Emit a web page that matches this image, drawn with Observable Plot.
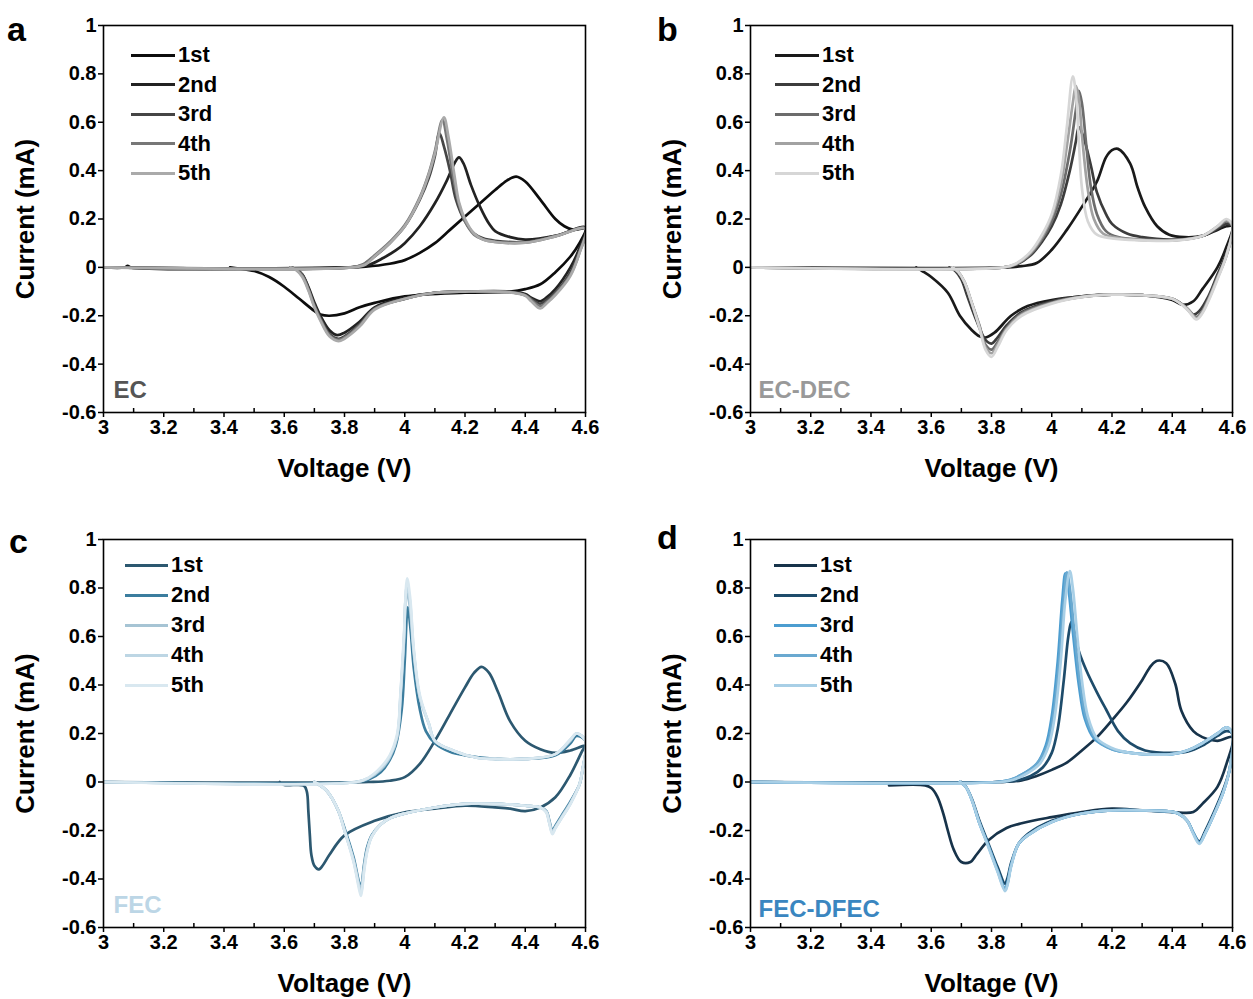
<!DOCTYPE html>
<html><head><meta charset="utf-8">
<script src="https://cdn.jsdelivr.net/npm/d3@7"></script>
<script src="https://cdn.jsdelivr.net/npm/@observablehq/plot@0.6"></script>
<style>
body{margin:0;background:#fff;}
#fig{position:relative;width:1253px;height:999px;background:#fff;font-family:"Liberation Sans",Arial,sans-serif;font-weight:bold;color:#000;overflow:hidden;}
.panel{position:absolute;}
.letter{position:absolute;font-size:34px;line-height:1;}
.legline{position:absolute;height:3px;}
.legtext{position:absolute;font-size:22px;line-height:1;transform:translateY(-50%);white-space:nowrap;}
</style></head>
<body><div id="fig"></div>
<script>
// ---------- data ----------
const cycles = ["1st", "2nd", "3rd", "4th", "5th"];
const xTicks = [3, 3.2, 3.4, 3.6, 3.8, 4, 4.2, 4.4, 4.6];
const xMinor = [3.1, 3.3, 3.5, 3.7, 3.9, 4.1, 4.3, 4.5];
const yTicks = [-0.6, -0.4, -0.2, 0, 0.2, 0.4, 0.6, 0.8, 1];

// Panel a: EC  (voltage V, current mA), anodic then cathodic sweep
const EC_1 = [[3.0,0],[3.07,0],[3.08,0.006],[3.09,0],[3.8,0],[3.87,0.003],[3.95,0.015],[4.0,0.03],[4.05,0.06],[4.1,0.1],[4.15,0.155],[4.2,0.21],[4.25,0.265],[4.3,0.32],[4.34,0.36],[4.37,0.375],[4.4,0.355],[4.45,0.28],[4.5,0.2],[4.53,0.17],[4.56,0.155],[4.6,0.16],[4.58,0.1],[4.55,0.045],[4.5,-0.02],[4.45,-0.07],[4.4,-0.09],[4.35,-0.1],[4.2,-0.105],[4.0,-0.12],[3.9,-0.147],[3.85,-0.165],[3.8,-0.19],[3.75,-0.2],[3.72,-0.195],[3.7,-0.18],[3.65,-0.13],[3.6,-0.08],[3.55,-0.04],[3.5,-0.015],[3.45,-0.005],[3.42,0]];
const EC_2 = [[3.0,0],[3.82,0],[3.88,0.01],[3.93,0.04],[3.97,0.07],[4.0,0.1],[4.05,0.17],[4.1,0.265],[4.14,0.36],[4.165,0.43],[4.18,0.455],[4.195,0.43],[4.22,0.34],[4.25,0.25],[4.28,0.18],[4.3,0.15],[4.35,0.125],[4.4,0.115],[4.5,0.13],[4.6,0.165],[4.58,0.08],[4.55,0.0],[4.5,-0.09],[4.47,-0.125],[4.45,-0.14],[4.42,-0.125],[4.4,-0.11],[4.35,-0.1],[4.2,-0.1],[4.1,-0.105],[4.0,-0.125],[3.9,-0.165],[3.85,-0.225],[3.8,-0.27],[3.775,-0.28],[3.75,-0.26],[3.72,-0.2],[3.7,-0.145],[3.68,-0.08],[3.66,-0.03],[3.64,-0.008],[3.62,0]];
const EC_3 = [[3.0,0],[3.82,0],[3.86,0.01],[3.9,0.045],[3.95,0.1],[4.0,0.17],[4.05,0.28],[4.08,0.37],[4.1,0.46],[4.115,0.555],[4.13,0.5],[4.15,0.4],[4.17,0.28],[4.2,0.19],[4.23,0.14],[4.26,0.12],[4.3,0.11],[4.4,0.105],[4.5,0.13],[4.6,0.16],[4.58,0.07],[4.55,-0.02],[4.5,-0.105],[4.47,-0.135],[4.45,-0.15],[4.42,-0.13],[4.4,-0.115],[4.35,-0.102],[4.2,-0.1],[4.1,-0.105],[4.0,-0.13],[3.9,-0.17],[3.85,-0.235],[3.8,-0.285],[3.78,-0.295],[3.75,-0.275],[3.72,-0.21],[3.7,-0.155],[3.68,-0.085],[3.66,-0.03],[3.64,-0.008],[3.62,0]];
const EC_4 = [[3.0,0],[3.82,0],[3.86,0.012],[3.9,0.05],[3.95,0.105],[4.0,0.175],[4.05,0.29],[4.08,0.39],[4.1,0.48],[4.125,0.61],[4.14,0.53],[4.16,0.38],[4.18,0.26],[4.2,0.19],[4.23,0.135],[4.26,0.115],[4.3,0.105],[4.4,0.102],[4.5,0.128],[4.6,0.16],[4.58,0.06],[4.55,-0.03],[4.5,-0.11],[4.47,-0.145],[4.45,-0.16],[4.42,-0.135],[4.4,-0.115],[4.35,-0.102],[4.2,-0.1],[4.1,-0.105],[4.0,-0.13],[3.9,-0.172],[3.85,-0.24],[3.8,-0.29],[3.78,-0.3],[3.75,-0.28],[3.72,-0.215],[3.7,-0.16],[3.68,-0.09],[3.66,-0.035],[3.64,-0.01],[3.62,0]];
const EC_5 = [[3.0,0],[3.83,0],[3.87,0.012],[3.9,0.045],[3.95,0.1],[4.0,0.17],[4.05,0.285],[4.08,0.385],[4.1,0.47],[4.13,0.62],[4.145,0.54],[4.165,0.38],[4.18,0.27],[4.2,0.2],[4.23,0.14],[4.26,0.115],[4.3,0.105],[4.4,0.102],[4.5,0.128],[4.6,0.16],[4.58,0.06],[4.55,-0.035],[4.5,-0.115],[4.47,-0.15],[4.45,-0.17],[4.42,-0.14],[4.4,-0.117],[4.35,-0.103],[4.2,-0.1],[4.1,-0.105],[4.0,-0.13],[3.9,-0.175],[3.85,-0.245],[3.8,-0.295],[3.78,-0.305],[3.75,-0.285],[3.72,-0.22],[3.7,-0.165],[3.68,-0.095],[3.66,-0.04],[3.64,-0.012],[3.62,0]];

// Panel b: EC-DEC
const DEC_1 = [[3.0,0],[3.85,0],[3.9,0.005],[3.95,0.018],[4.0,0.073],[4.05,0.155],[4.1,0.25],[4.15,0.355],[4.18,0.455],[4.2,0.485],[4.22,0.49],[4.26,0.43],[4.285,0.33],[4.31,0.25],[4.35,0.17],[4.39,0.135],[4.44,0.125],[4.5,0.13],[4.55,0.155],[4.58,0.17],[4.6,0.17],[4.58,0.085],[4.55,0.0],[4.5,-0.09],[4.47,-0.14],[4.435,-0.155],[4.4,-0.135],[4.3,-0.115],[4.2,-0.113],[4.1,-0.12],[4.0,-0.135],[3.92,-0.16],[3.865,-0.2],[3.81,-0.27],[3.78,-0.29],[3.76,-0.285],[3.735,-0.26],[3.695,-0.2],[3.655,-0.105],[3.6,-0.04],[3.57,-0.015],[3.55,0]];
const DEC_2 = [[3.0,0],[3.84,0],[3.88,0.01],[3.93,0.05],[3.97,0.11],[4.0,0.17],[4.03,0.26],[4.06,0.4],[4.08,0.52],[4.09,0.58],[4.105,0.54],[4.13,0.42],[4.15,0.31],[4.18,0.22],[4.2,0.18],[4.25,0.14],[4.3,0.125],[4.4,0.115],[4.5,0.13],[4.55,0.16],[4.58,0.18],[4.6,0.17],[4.58,0.06],[4.55,-0.03],[4.52,-0.12],[4.49,-0.18],[4.47,-0.195],[4.44,-0.16],[4.4,-0.13],[4.3,-0.115],[4.2,-0.113],[4.1,-0.12],[4.0,-0.14],[3.9,-0.185],[3.85,-0.24],[3.82,-0.29],[3.8,-0.315],[3.78,-0.3],[3.75,-0.22],[3.72,-0.12],[3.7,-0.05],[3.68,-0.015],[3.66,0]];
const DEC_3 = [[3.0,0],[3.84,0],[3.88,0.012],[3.93,0.055],[3.97,0.12],[4.0,0.19],[4.03,0.3],[4.06,0.48],[4.08,0.65],[4.09,0.73],[4.1,0.68],[4.115,0.5],[4.13,0.33],[4.15,0.22],[4.18,0.15],[4.22,0.125],[4.3,0.115],[4.4,0.112],[4.5,0.13],[4.55,0.165],[4.58,0.19],[4.6,0.17],[4.58,0.05],[4.55,-0.04],[4.52,-0.13],[4.5,-0.18],[4.48,-0.205],[4.45,-0.17],[4.4,-0.13],[4.3,-0.115],[4.2,-0.113],[4.1,-0.122],[4.0,-0.145],[3.9,-0.19],[3.85,-0.25],[3.82,-0.31],[3.8,-0.34],[3.78,-0.32],[3.76,-0.24],[3.73,-0.13],[3.71,-0.06],[3.69,-0.02],[3.67,0]];
const DEC_4 = [[3.0,0],[3.84,0],[3.88,0.013],[3.93,0.06],[3.97,0.13],[4.0,0.21],[4.03,0.34],[4.05,0.5],[4.07,0.68],[4.08,0.75],[4.09,0.7],[4.1,0.55],[4.12,0.32],[4.14,0.2],[4.17,0.14],[4.22,0.122],[4.3,0.113],[4.4,0.112],[4.5,0.13],[4.55,0.17],[4.58,0.195],[4.6,0.17],[4.58,0.05],[4.55,-0.045],[4.52,-0.135],[4.5,-0.185],[4.48,-0.21],[4.45,-0.17],[4.4,-0.13],[4.3,-0.115],[4.2,-0.113],[4.1,-0.122],[4.0,-0.147],[3.9,-0.195],[3.85,-0.255],[3.82,-0.32],[3.8,-0.355],[3.78,-0.33],[3.76,-0.245],[3.73,-0.13],[3.71,-0.06],[3.69,-0.02],[3.67,0]];
const DEC_5 = [[3.0,0],[3.84,0],[3.88,0.015],[3.93,0.065],[3.97,0.14],[4.0,0.22],[4.03,0.38],[4.05,0.58],[4.07,0.79],[4.08,0.72],[4.09,0.52],[4.1,0.33],[4.12,0.19],[4.15,0.135],[4.2,0.12],[4.3,0.112],[4.4,0.11],[4.5,0.13],[4.55,0.17],[4.58,0.2],[4.6,0.175],[4.58,0.05],[4.55,-0.05],[4.52,-0.14],[4.5,-0.19],[4.48,-0.215],[4.45,-0.175],[4.4,-0.13],[4.3,-0.115],[4.2,-0.113],[4.1,-0.123],[4.0,-0.15],[3.9,-0.2],[3.85,-0.26],[3.82,-0.33],[3.8,-0.37],[3.78,-0.34],[3.76,-0.25],[3.73,-0.13],[3.71,-0.06],[3.69,-0.02],[3.67,0]];

// Panel c: FEC
const FEC_1 = [[3.0,0],[3.88,0],[3.95,0.005],[4.0,0.02],[4.05,0.075],[4.1,0.17],[4.15,0.28],[4.2,0.39],[4.23,0.45],[4.255,0.475],[4.28,0.45],[4.31,0.37],[4.35,0.25],[4.4,0.17],[4.45,0.135],[4.5,0.12],[4.55,0.13],[4.6,0.15],[4.59,0.13],[4.55,0.03],[4.5,-0.063],[4.45,-0.105],[4.4,-0.12],[4.35,-0.11],[4.3,-0.105],[4.2,-0.098],[4.1,-0.11],[4.0,-0.125],[3.9,-0.16],[3.8,-0.22],[3.75,-0.3],[3.73,-0.34],[3.715,-0.36],[3.7,-0.345],[3.69,-0.3],[3.685,-0.22],[3.68,-0.12],[3.675,-0.04],[3.665,-0.015],[3.6,-0.012],[3.585,0]];
const FEC_2 = [[3.0,0],[3.84,0],[3.88,0.01],[3.92,0.04],[3.95,0.09],[3.97,0.15],[3.99,0.3],[4.0,0.5],[4.01,0.72],[4.02,0.62],[4.03,0.47],[4.05,0.3],[4.07,0.21],[4.1,0.16],[4.15,0.125],[4.2,0.11],[4.3,0.095],[4.4,0.095],[4.5,0.11],[4.55,0.16],[4.57,0.19],[4.6,0.17],[4.59,0.05],[4.58,-0.01],[4.55,-0.08],[4.52,-0.14],[4.5,-0.18],[4.49,-0.2],[4.48,-0.16],[4.47,-0.12],[4.45,-0.105],[4.4,-0.098],[4.3,-0.09],[4.2,-0.09],[4.1,-0.105],[4.0,-0.13],[3.95,-0.15],[3.92,-0.175],[3.89,-0.22],[3.875,-0.27],[3.865,-0.34],[3.855,-0.43],[3.85,-0.42],[3.83,-0.31],[3.8,-0.19],[3.78,-0.12],[3.76,-0.07],[3.74,-0.035],[3.72,-0.015],[3.7,0]];
const FEC_3 = [[3.0,0],[3.84,0],[3.88,0.015],[3.92,0.05],[3.95,0.1],[3.975,0.185],[3.986,0.35],[3.997,0.57],[4.006,0.78],[4.015,0.74],[4.03,0.53],[4.05,0.35],[4.08,0.24],[4.1,0.17],[4.16,0.13],[4.24,0.1],[4.3,0.095],[4.4,0.095],[4.5,0.115],[4.55,0.17],[4.57,0.2],[4.6,0.17],[4.59,0.05],[4.58,-0.01],[4.55,-0.085],[4.52,-0.145],[4.5,-0.185],[4.49,-0.205],[4.48,-0.165],[4.47,-0.12],[4.45,-0.105],[4.4,-0.098],[4.3,-0.09],[4.2,-0.09],[4.1,-0.105],[4.0,-0.13],[3.95,-0.15],[3.92,-0.175],[3.89,-0.225],[3.875,-0.28],[3.865,-0.35],[3.855,-0.44],[3.85,-0.43],[3.83,-0.32],[3.8,-0.2],[3.78,-0.12],[3.76,-0.07],[3.74,-0.035],[3.72,-0.015],[3.7,0]];
const FEC_4 = [[3.0,0],[3.84,0],[3.88,0.017],[3.92,0.055],[3.95,0.105],[3.975,0.19],[3.986,0.36],[3.997,0.58],[4.007,0.81],[4.017,0.75],[4.03,0.54],[4.05,0.35],[4.08,0.24],[4.1,0.17],[4.16,0.13],[4.24,0.1],[4.3,0.095],[4.4,0.095],[4.5,0.115],[4.55,0.175],[4.57,0.2],[4.6,0.17],[4.59,0.05],[4.58,-0.01],[4.55,-0.09],[4.52,-0.15],[4.5,-0.19],[4.49,-0.21],[4.48,-0.17],[4.47,-0.125],[4.45,-0.105],[4.4,-0.098],[4.3,-0.09],[4.2,-0.09],[4.1,-0.105],[4.0,-0.13],[3.95,-0.15],[3.92,-0.175],[3.89,-0.225],[3.875,-0.285],[3.865,-0.36],[3.855,-0.46],[3.85,-0.44],[3.83,-0.325],[3.8,-0.2],[3.78,-0.12],[3.76,-0.07],[3.74,-0.035],[3.72,-0.015],[3.7,0]];
const FEC_5 = [[3.0,0],[3.84,0],[3.88,0.018],[3.92,0.06],[3.95,0.11],[3.975,0.2],[3.986,0.37],[3.997,0.6],[4.008,0.84],[4.018,0.76],[4.03,0.55],[4.05,0.36],[4.08,0.24],[4.1,0.17],[4.16,0.13],[4.24,0.1],[4.3,0.095],[4.4,0.095],[4.5,0.115],[4.55,0.175],[4.57,0.2],[4.6,0.17],[4.59,0.05],[4.58,-0.01],[4.55,-0.09],[4.52,-0.15],[4.5,-0.19],[4.49,-0.215],[4.48,-0.17],[4.47,-0.125],[4.45,-0.105],[4.4,-0.098],[4.3,-0.09],[4.2,-0.09],[4.1,-0.105],[4.0,-0.13],[3.95,-0.15],[3.92,-0.175],[3.89,-0.225],[3.875,-0.29],[3.865,-0.37],[3.855,-0.47],[3.85,-0.45],[3.83,-0.33],[3.8,-0.2],[3.78,-0.12],[3.76,-0.07],[3.74,-0.035],[3.72,-0.015],[3.7,0]];

// Panel d: FEC-DFEC
const DFEC_1 = [[3.0,0],[3.82,0],[3.9,0.007],[3.95,0.025],[4.0,0.05],[4.05,0.08],[4.1,0.13],[4.15,0.185],[4.2,0.255],[4.25,0.33],[4.3,0.42],[4.33,0.48],[4.35,0.5],[4.38,0.49],[4.41,0.405],[4.43,0.295],[4.47,0.21],[4.5,0.185],[4.55,0.17],[4.6,0.185],[4.58,0.075],[4.55,-0.02],[4.5,-0.09],[4.47,-0.124],[4.4,-0.124],[4.3,-0.117],[4.2,-0.11],[4.1,-0.124],[4.0,-0.145],[3.9,-0.17],[3.85,-0.19],[3.79,-0.24],[3.75,-0.3],[3.73,-0.33],[3.7,-0.33],[3.675,-0.28],[3.655,-0.2],[3.64,-0.13],[3.62,-0.06],[3.6,-0.025],[3.58,-0.014],[3.46,-0.014]];
const DFEC_2 = [[3.0,0],[3.82,0],[3.88,0.005],[3.93,0.025],[3.97,0.06],[4.0,0.12],[4.02,0.22],[4.04,0.42],[4.055,0.6],[4.065,0.66],[4.075,0.62],[4.09,0.54],[4.115,0.46],[4.15,0.37],[4.18,0.3],[4.22,0.21],[4.26,0.16],[4.31,0.13],[4.4,0.12],[4.45,0.125],[4.5,0.15],[4.55,0.19],[4.58,0.21],[4.6,0.2],[4.59,0.05],[4.57,-0.03],[4.54,-0.12],[4.51,-0.2],[4.49,-0.245],[4.47,-0.21],[4.45,-0.16],[4.42,-0.13],[4.4,-0.123],[4.3,-0.117],[4.2,-0.117],[4.1,-0.13],[4.0,-0.16],[3.92,-0.215],[3.89,-0.255],[3.866,-0.33],[3.852,-0.4],[3.845,-0.42],[3.82,-0.35],[3.787,-0.245],[3.76,-0.16],[3.735,-0.07],[3.715,-0.02],[3.7,0]];
const DFEC_3 = [[3.0,0],[3.82,0],[3.86,0.008],[3.9,0.03],[3.95,0.075],[3.98,0.15],[4.0,0.27],[4.02,0.5],[4.035,0.75],[4.045,0.86],[4.055,0.8],[4.07,0.62],[4.09,0.4],[4.11,0.26],[4.14,0.18],[4.2,0.135],[4.25,0.122],[4.3,0.115],[4.4,0.115],[4.45,0.13],[4.5,0.16],[4.55,0.2],[4.58,0.225],[4.6,0.2],[4.59,0.05],[4.57,-0.04],[4.54,-0.13],[4.51,-0.21],[4.49,-0.25],[4.47,-0.21],[4.45,-0.16],[4.42,-0.13],[4.4,-0.123],[4.3,-0.117],[4.2,-0.117],[4.1,-0.13],[4.0,-0.165],[3.92,-0.22],[3.89,-0.255],[3.866,-0.34],[3.852,-0.42],[3.845,-0.44],[3.82,-0.365],[3.787,-0.255],[3.76,-0.17],[3.735,-0.075],[3.715,-0.02],[3.695,0]];
const DFEC_4 = [[3.0,0],[3.82,0],[3.86,0.008],[3.9,0.03],[3.95,0.075],[3.985,0.15],[4.005,0.27],[4.025,0.5],[4.04,0.75],[4.05,0.865],[4.06,0.8],[4.075,0.62],[4.095,0.4],[4.115,0.26],[4.145,0.18],[4.2,0.135],[4.25,0.122],[4.3,0.115],[4.4,0.115],[4.45,0.13],[4.5,0.16],[4.55,0.2],[4.58,0.225],[4.6,0.2],[4.59,0.05],[4.57,-0.04],[4.54,-0.13],[4.51,-0.21],[4.49,-0.252],[4.47,-0.21],[4.45,-0.16],[4.42,-0.13],[4.4,-0.123],[4.3,-0.117],[4.2,-0.117],[4.1,-0.13],[4.0,-0.165],[3.92,-0.22],[3.89,-0.255],[3.866,-0.34],[3.852,-0.425],[3.845,-0.445],[3.82,-0.365],[3.787,-0.255],[3.76,-0.17],[3.735,-0.075],[3.715,-0.02],[3.695,0]];
const DFEC_5 = [[3.0,0],[3.83,0],[3.87,0.008],[3.91,0.03],[3.96,0.075],[3.99,0.15],[4.01,0.27],[4.03,0.5],[4.045,0.75],[4.06,0.87],[4.07,0.8],[4.085,0.6],[4.1,0.42],[4.12,0.27],[4.15,0.18],[4.2,0.14],[4.25,0.122],[4.3,0.115],[4.4,0.115],[4.45,0.13],[4.5,0.16],[4.55,0.2],[4.58,0.225],[4.6,0.2],[4.59,0.05],[4.57,-0.04],[4.54,-0.13],[4.51,-0.21],[4.49,-0.255],[4.47,-0.215],[4.45,-0.16],[4.42,-0.13],[4.4,-0.123],[4.3,-0.117],[4.2,-0.117],[4.1,-0.13],[4.0,-0.165],[3.92,-0.22],[3.89,-0.255],[3.866,-0.345],[3.852,-0.43],[3.845,-0.45],[3.82,-0.37],[3.787,-0.26],[3.76,-0.17],[3.735,-0.075],[3.715,-0.02],[3.695,0]];

const ecColors   = ["#0d0d0d", "#222222", "#454545", "#777777", "#aaaaaa"];
const decColors  = ["#1a1a1a", "#3c3c3c", "#6c6c6c", "#a2a2a2", "#d6d6d6"];
const fecColors  = ["#2c5870", "#3b7d9e", "#a6c4d4", "#bdd6e4", "#d9e8f0"];
const dfecColors = ["#17334a", "#1e4c6b", "#4c9dd0", "#6aa9d0", "#a8cfe6"];

// ---------- drawing ----------
const fig = document.getElementById("fig");
const fmt = d => String(d);

function panel(cfg) {
  const rows = cfg.curves.flatMap((pts, i) => pts.map(p => ({v: p[0], c: p[1], cycle: cycles[i]})));
  const chart = Plot.plot({
    width: cfg.width, height: cfg.height,
    marginLeft: 103, marginTop: 25, marginRight: cfg.marginRight, marginBottom: cfg.marginBottom,
    style: {fontFamily: '"Liberation Sans", Arial, sans-serif', fontSize: "20px", fontWeight: "bold", color: "#000", background: "transparent", overflow: "visible"},
    x: {domain: [3, 4.6], axis: null},
    y: {domain: [-0.6, 1], axis: null},
    color: {domain: cycles, range: cfg.colors},
    marks: [
      Plot.line(rows, {x: "v", y: "c", z: "cycle", stroke: "cycle", strokeWidth: 2.7, curve: "catmull-rom", clip: true}),
      Plot.frame({stroke: "#000", strokeWidth: 1.6}),
      Plot.axisX({ticks: xTicks, tickFormat: fmt, tickSize: 5, tickPadding: 2, label: null, stroke: "#000", strokeWidth: 1.5}),
      Plot.axisX({ticks: xMinor, tickFormat: () => "", tickSize: 4, dy: -4, label: null, stroke: "#000", strokeWidth: 1.5}),
      Plot.axisY({ticks: yTicks, tickFormat: fmt, tickSize: 5, tickPadding: 2, label: null, stroke: "#000", strokeWidth: 1.5}),
      Plot.text(["Voltage (V)"], {text: d => d, frameAnchor: "bottom", dy: 56, textAnchor: "middle", lineAnchor: "middle", fontSize: 26, fontWeight: "bold", fill: "#000"}),
      Plot.text(["Current (mA)"], {text: d => d, frameAnchor: "left", dx: -78, rotate: -90, textAnchor: "middle", lineAnchor: "middle", fontSize: 26, fontWeight: "bold", fill: "#000"}),
      Plot.text([cfg.label], {text: d => d, frameAnchor: "bottom-left", dx: cfg.labelDx, dy: cfg.labelDy, textAnchor: "start", lineAnchor: "middle", fontSize: 24, fontWeight: "bold", fill: cfg.labelColor})
    ]
  });
  chart.classList.add("panel");
  chart.style.left = cfg.left + "px";
  chart.style.top = cfg.top + "px";
  fig.appendChild(chart);

  const letter = document.createElement("div");
  letter.className = "letter";
  letter.textContent = cfg.letter;
  letter.style.left = cfg.letterX + "px";
  letter.style.top = cfg.letterY + "px";
  fig.appendChild(letter);

  cycles.forEach((name, i) => {
    const yc = cfg.legY + cfg.legStep * i;
    const ln = document.createElement("div");
    ln.className = "legline";
    ln.style.left = cfg.legX1 + "px";
    ln.style.width = (cfg.legX2 - cfg.legX1) + "px";
    ln.style.top = (yc - 1.5) + "px";
    ln.style.background = cfg.colors[i];
    fig.appendChild(ln);
    const tx = document.createElement("div");
    tx.className = "legtext";
    tx.textContent = name;
    tx.style.left = cfg.legText + "px";
    tx.style.top = yc + "px";
    fig.appendChild(tx);
  });
}

panel({curves: [EC_1, EC_2, EC_3, EC_4, EC_5], colors: ecColors, label: "EC", labelColor: "#555555", labelDx: 10, labelDy: -22,
  left: 0, top: 0, width: 620, height: 495, marginRight: 35, marginBottom: 83,
  letter: "a", letterX: 7, letterY: 12, legX1: 131, legX2: 175, legText: 178, legY: 55, legStep: 29.5});
panel({curves: [DEC_1, DEC_2, DEC_3, DEC_4, DEC_5], colors: decColors, label: "EC-DEC", labelColor: "#999999", labelDx: 8, labelDy: -22,
  left: 647, top: 0, width: 606, height: 495, marginRight: 21, marginBottom: 83,
  letter: "b", letterX: 657, letterY: 12, legX1: 775, legX2: 819, legText: 822, legY: 55, legStep: 29.5});
panel({curves: [FEC_1, FEC_2, FEC_3, FEC_4, FEC_5], colors: fecColors, label: "FEC", labelColor: "#bcd6e6", labelDx: 10, labelDy: -22,
  left: 0, top: 514, width: 620, height: 485, marginRight: 35, marginBottom: 72,
  letter: "c", letterX: 9, letterY: 524, legX1: 125, legX2: 168, legText: 171, legY: 565, legStep: 30});
panel({curves: [DFEC_1, DFEC_2, DFEC_3, DFEC_4, DFEC_5], colors: dfecColors, label: "FEC-DFEC", labelColor: "#3a86c0", labelDx: 8, labelDy: -18,
  left: 647, top: 514, width: 606, height: 485, marginRight: 21, marginBottom: 72,
  letter: "d", letterX: 657, letterY: 520, legX1: 774, legX2: 817, legText: 820, legY: 565, legStep: 30});
</script>
</body></html>
